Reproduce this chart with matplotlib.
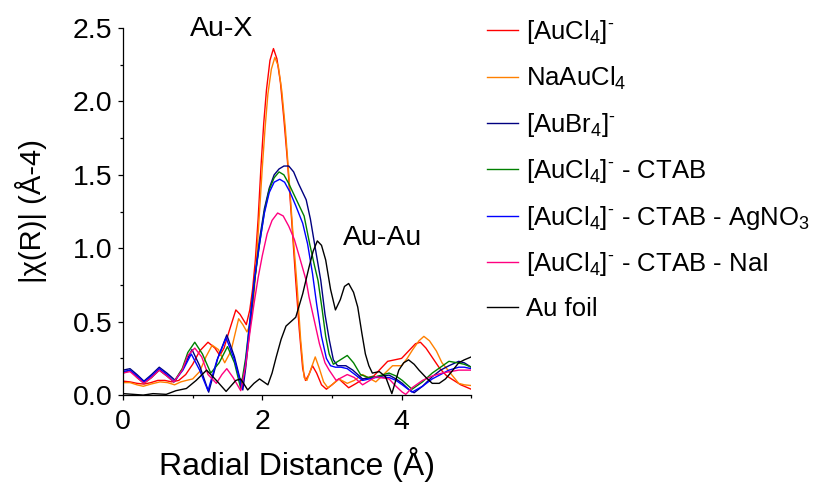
import matplotlib
matplotlib.use("Agg")
import matplotlib.pyplot as plt
from matplotlib.ticker import MultipleLocator

plt.rcParams['font.family'] = ['Liberation Sans', 'DejaVu Sans']
plt.rcParams['mathtext.fontset'] = 'custom'
plt.rcParams['mathtext.rm'] = 'Liberation Sans'
plt.rcParams['mathtext.it'] = 'Liberation Sans:italic'
plt.rcParams['mathtext.default'] = 'regular'

# [AuCl4]-
aucl4_x = [0, 0.1, 0.2, 0.3, 0.4, 0.5, 0.6, 0.7, 0.8, 0.9, 1.0, 1.1, 1.22, 1.32, 1.39, 1.45, 1.52,
           1.62, 1.68, 1.77, 1.82, 1.86, 1.9, 1.94, 1.98, 2.02, 2.06, 2.11, 2.16, 2.21, 2.26, 2.31,
           2.36, 2.42, 2.48, 2.53, 2.58, 2.62, 2.67, 2.72, 2.78, 2.85, 2.92, 3.0, 3.1, 3.17, 3.24,
           3.35, 3.45, 3.6, 3.7, 3.8, 3.9, 4.0, 4.1, 4.2, 4.27, 4.35, 4.45, 4.55, 4.65, 4.75, 4.85,
           4.95, 5.0]
aucl4_y = [0.095, 0.09, 0.08, 0.075, 0.085, 0.10, 0.10, 0.09, 0.10, 0.14, 0.21, 0.30, 0.36, 0.32,
           0.27, 0.32, 0.43, 0.58, 0.55, 0.48, 0.58, 0.72, 0.92, 1.2, 1.55, 1.85, 2.08, 2.28, 2.36,
           2.29, 2.13, 1.88, 1.6, 1.2, 0.78, 0.45, 0.18, 0.10, 0.14, 0.20, 0.15, 0.07, 0.04, 0.07,
           0.11, 0.08, 0.05, 0.08, 0.11, 0.13, 0.18, 0.23, 0.24, 0.25, 0.30, 0.35, 0.36, 0.32, 0.25,
           0.18, 0.13, 0.10, 0.07, 0.05, 0.04]

# NaAuCl4
naaucl4_x = [0, 0.1, 0.2, 0.29, 0.4, 0.53, 0.64, 0.74, 0.83, 0.91, 1.0, 1.1, 1.19, 1.28, 1.37, 1.46,
             1.55, 1.66, 1.72, 1.78, 1.84, 1.88, 1.92, 1.96, 2.0, 2.04, 2.08, 2.13, 2.18, 2.23, 2.28,
             2.33, 2.38, 2.44, 2.5, 2.55, 2.6, 2.64, 2.7, 2.76, 2.82, 2.88, 2.94, 3.0, 3.1, 3.22,
             3.32, 3.44, 3.63, 3.72, 3.87, 4.0, 4.08, 4.16, 4.25, 4.32, 4.4, 4.5, 4.58, 4.7, 4.82,
             4.9, 5.0]
naaucl4_y = [0.085, 0.085, 0.07, 0.06, 0.075, 0.09, 0.085, 0.07, 0.09, 0.10, 0.11, 0.16, 0.26, 0.34,
             0.31, 0.22, 0.30, 0.52, 0.48, 0.43, 0.50, 0.68, 0.95, 1.25, 1.55, 1.82, 2.05, 2.22,
             2.30, 2.24, 2.07, 1.82, 1.5, 1.1, 0.74, 0.38, 0.12, 0.10, 0.18, 0.26, 0.18, 0.09,
             0.05, 0.07, 0.11, 0.08, 0.10, 0.14, 0.09, 0.13, 0.20, 0.20, 0.25, 0.31, 0.37, 0.40,
             0.37, 0.30, 0.22, 0.15, 0.08, 0.07, 0.065]

# [AuBr4]-
aubr4_x = [0, 0.1, 0.2, 0.3, 0.41, 0.52, 0.63, 0.75, 0.87, 0.99, 1.1, 1.23, 1.36, 1.49, 1.6, 1.72,
           1.76, 1.82, 1.89, 1.96, 2.03, 2.1, 2.17, 2.24, 2.31, 2.38, 2.45, 2.52, 2.58, 2.63, 2.69,
           2.75, 2.84, 2.9, 2.96, 3.02, 3.08, 3.2, 3.3, 3.44, 3.63, 3.82, 3.92, 4.01, 4.1, 4.18,
           4.3, 4.44, 4.56, 4.68, 4.82, 4.9, 5.0]
aubr4_y = [0.17, 0.18, 0.14, 0.095, 0.14, 0.19, 0.15, 0.10, 0.19, 0.31, 0.20, 0.02, 0.25, 0.41,
           0.26, 0.035, 0.18, 0.45, 0.78, 1.06, 1.27, 1.41, 1.50, 1.54, 1.56, 1.56, 1.52, 1.44,
           1.38, 1.33, 1.20, 1.03, 0.78, 0.55, 0.38, 0.24, 0.20, 0.20, 0.17, 0.11, 0.125, 0.136,
           0.11, 0.08, 0.04, 0.016, 0.06, 0.125, 0.17, 0.20, 0.23, 0.22, 0.19]

# [AuCl4]- - CTAB
ctab_x = [0, 0.1, 0.2, 0.3, 0.41, 0.52, 0.63, 0.73, 0.85, 0.93, 1.03, 1.14, 1.26, 1.38, 1.5, 1.6,
          1.69, 1.76, 1.82, 1.89, 1.96, 2.03, 2.1, 2.17, 2.24, 2.31, 2.38, 2.45, 2.52, 2.6, 2.68,
          2.75, 2.8, 2.86, 2.91, 2.96, 3.02, 3.12, 3.22, 3.31, 3.41, 3.52, 3.63, 3.82, 3.92, 4.01,
          4.15, 4.3, 4.44, 4.56, 4.68, 4.8, 4.9, 5.0]
ctab_y = [0.15, 0.17, 0.12, 0.08, 0.12, 0.17, 0.13, 0.09, 0.18, 0.29, 0.36, 0.28, 0.15, 0.22, 0.33,
          0.22, 0.045, 0.25, 0.50, 0.78, 1.03, 1.25, 1.40, 1.48, 1.52, 1.50, 1.44, 1.37, 1.30,
          1.22, 1.03, 0.88, 0.78, 0.58, 0.40, 0.28, 0.21, 0.24, 0.27, 0.22, 0.14, 0.12, 0.125,
          0.15, 0.13, 0.10, 0.04, 0.09, 0.15, 0.19, 0.23, 0.22, 0.21, 0.19]

# [AuCl4]- - CTAB - AgNO3
agno3_x = [0, 0.1, 0.2, 0.3, 0.41, 0.52, 0.63, 0.73, 0.86, 0.98, 1.1, 1.22, 1.35, 1.48, 1.6, 1.71,
           1.76, 1.82, 1.89, 1.96, 2.03, 2.1, 2.17, 2.25, 2.32, 2.4, 2.48, 2.58, 2.65, 2.72, 2.78,
           2.85, 2.92, 2.98, 3.05, 3.13, 3.22, 3.33, 3.44, 3.63, 3.82, 3.92, 4.01, 4.15, 4.3, 4.44,
           4.56, 4.68, 4.82, 4.9, 5.0]
agno3_y = [0.16, 0.17, 0.13, 0.09, 0.13, 0.18, 0.14, 0.09, 0.17, 0.28, 0.17, 0.03, 0.24, 0.39,
           0.24, 0.04, 0.22, 0.50, 0.80, 1.03, 1.24, 1.38, 1.45, 1.47, 1.45, 1.38, 1.29, 1.17,
           1.03, 0.83, 0.62, 0.40, 0.25, 0.20, 0.19, 0.19, 0.18, 0.14, 0.10, 0.12, 0.12, 0.10,
           0.07, 0.02, 0.06, 0.11, 0.14, 0.17, 0.19, 0.19, 0.18]

# [AuCl4]- - CTAB - NaI
nai_x = [0, 0.1, 0.2, 0.3, 0.41, 0.52, 0.63, 0.73, 0.85, 0.93, 1.03, 1.13, 1.22, 1.34, 1.42, 1.49,
         1.58, 1.69, 1.76, 1.82, 1.88, 1.94, 2.0, 2.07, 2.14, 2.22, 2.3, 2.38, 2.46, 2.54, 2.63,
         2.67, 2.75, 2.82, 2.9, 2.96, 3.06, 3.14, 3.22, 3.32, 3.44, 3.63, 3.82, 3.92, 4.01, 4.06,
         4.15, 4.3, 4.44, 4.58, 4.7, 4.82, 5.0]
nai_y = [0.15, 0.16, 0.12, 0.08, 0.12, 0.17, 0.13, 0.09, 0.17, 0.27, 0.32, 0.26, 0.14, 0.08, 0.14,
         0.18, 0.12, 0.03, 0.20, 0.42, 0.62, 0.80, 0.95, 1.10, 1.19, 1.24, 1.22, 1.15, 1.06, 0.93,
         0.78, 0.67, 0.50, 0.35, 0.22, 0.17, 0.10, 0.12, 0.14, 0.12, 0.07, 0.125, 0.11, 0.06,
         0.02, 0.005, 0.05, 0.10, 0.13, 0.15, 0.16, 0.17, 0.17]

# Au foil
foil_x = [0, 0.15, 0.29, 0.43, 0.62, 0.76, 0.91, 1.05, 1.2, 1.34, 1.48, 1.62, 1.69, 1.79, 1.88,
          1.96, 2.02, 2.08, 2.14, 2.2, 2.27, 2.34, 2.41, 2.48, 2.58, 2.67, 2.73, 2.79, 2.85, 2.91,
          2.98, 3.05, 3.12, 3.18, 3.24, 3.31, 3.37, 3.43, 3.48, 3.53, 3.58, 3.68, 3.77, 3.86, 3.96,
          4.03, 4.1, 4.18, 4.25, 4.35, 4.44, 4.54, 4.63, 4.72, 4.82, 4.9, 5.0]
foil_y = [0.01, 0.005, 0.0, 0.01, 0.005, 0.03, 0.045, 0.10, 0.17, 0.10, 0.025, 0.10, 0.11, 0.035,
          0.08, 0.11, 0.09, 0.07, 0.15, 0.26, 0.38, 0.47, 0.50, 0.53, 0.69, 0.87, 0.98, 1.05, 1.02,
          0.92, 0.72, 0.58, 0.65, 0.74, 0.76, 0.70, 0.60, 0.42, 0.28, 0.20, 0.15, 0.16, 0.125,
          0.01, 0.17, 0.22, 0.24, 0.21, 0.17, 0.12, 0.08, 0.08, 0.11, 0.16, 0.22, 0.24, 0.26]

labels = ['[AuCl$_4$]$^{\\text{-}}$', 'NaAuCl$_4$', '[AuBr$_4$]$^{\\text{-}}$',
          '[AuCl$_4$]$^{\\text{-}}$ - CTAB', '[AuCl$_4$]$^{\\text{-}}$ - CTAB - AgNO$_3$',
          '[AuCl$_4$]$^{\\text{-}}$ - CTAB - NaI', 'Au foil']
colors = ['#ff0000', '#ff8000', '#000080', '#008000', '#0000ff', '#ff0080', '#000000']
series = [(aucl4_x, aucl4_y), (naaucl4_x, naaucl4_y), (aubr4_x, aubr4_y), (ctab_x, ctab_y),
          (agno3_x, agno3_y), (nai_x, nai_y), (foil_x, foil_y)]

fig = plt.figure(figsize=(8.37, 4.83), dpi=100)
ax = fig.add_axes([0.147, 0.182, 0.416, 0.760])

for (x, y), c, lab in zip(series, colors, labels):
    ax.plot(x, y, color=c, lw=1.0, label=lab)

ax.set_xlim(0, 5)
ax.set_ylim(0, 2.5)
ax.xaxis.set_major_locator(MultipleLocator(2))
ax.xaxis.set_minor_locator(MultipleLocator(1))
ax.yaxis.set_major_locator(MultipleLocator(0.5))
ax.yaxis.set_minor_locator(MultipleLocator(0.25))
ax.yaxis.set_major_formatter(plt.FormatStrFormatter('%.1f'))
ax.spines['top'].set_visible(False)
ax.spines['right'].set_visible(False)
for s in ('left', 'bottom'):
    ax.spines[s].set_linewidth(0.9)
ax.tick_params(which='major', direction='out', length=3.8, width=0.9, labelsize=20.5)
ax.tick_params(which='minor', direction='out', length=2.3, width=0.9)
ax.tick_params(axis='x', which='major', pad=6)
ax.tick_params(axis='y', which='major', pad=4)

ax.set_xlabel('Radial Distance (Å)', fontsize=23, labelpad=9)
ax.set_ylabel('|χ(R)| (Å-4)', fontsize=21, labelpad=18)

ax.text(1.41, 2.49, 'Au-X', fontsize=20.5, ha='center', va='center')
ax.text(3.72, 1.07, 'Au-Au', fontsize=20.5, ha='center', va='center')

fig.legend(loc='upper left', bbox_to_anchor=(0.582, 0.962), frameon=False, fontsize=18.5,
           borderpad=0, borderaxespad=0, handlelength=1.2, handletextpad=0.3,
           labelspacing=0.72)

fig.savefig('out.png', dpi=100)
